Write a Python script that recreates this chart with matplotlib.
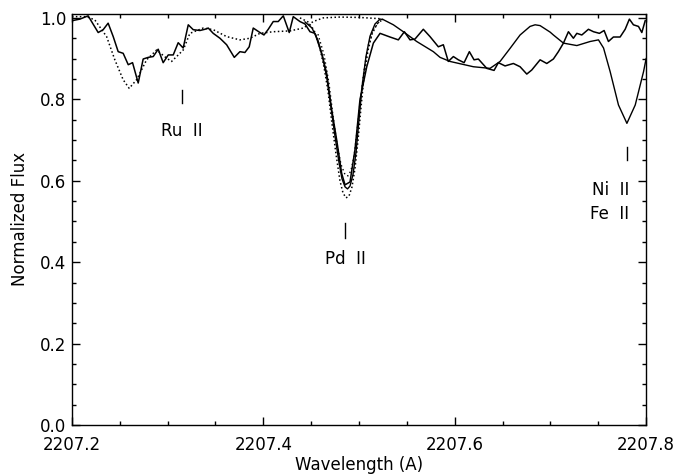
import numpy as np
import matplotlib
matplotlib.use('Agg')
import matplotlib.pyplot as plt
from matplotlib.ticker import MultipleLocator

# observed spectrum (jagged solid line)
obs_wl = [2207.2000, 2207.2084, 2207.2170, 2207.2275, 2207.2327, 2207.2379, 2207.2432,
          2207.2484, 2207.2536, 2207.2589, 2207.2634, 2207.2693, 2207.2745, 2207.2798,
          2207.2850, 2207.2902, 2207.2954, 2207.3007, 2207.3059, 2207.3111, 2207.3163,
          2207.3216, 2207.3268, 2207.3338, 2207.3390, 2207.3425, 2207.3477, 2207.3547,
          2207.3617, 2207.3697, 2207.3756, 2207.3808, 2207.3853, 2207.3895, 2207.3965,
          2207.4007, 2207.4052, 2207.4104, 2207.4156, 2207.4209, 2207.4271, 2207.4313,
          2207.4383, 2207.4436, 2207.4488, 2207.4540, 2207.4610, 2207.4662, 2207.4715,
          2207.4767, 2207.4819, 2207.4854, 2207.4906, 2207.4958, 2207.5010, 2207.5081,
          2207.5150, 2207.5220, 2207.5324, 2207.5411, 2207.5474, 2207.5533, 2207.5585,
          2207.5672, 2207.5742, 2207.5829, 2207.5881, 2207.5933, 2207.5986, 2207.6038,
          2207.6098, 2207.6153, 2207.6202, 2207.6247, 2207.6335, 2207.6411, 2207.6456,
          2207.6526, 2207.6613, 2207.6683, 2207.6753, 2207.6805, 2207.6892, 2207.6962,
          2207.7031, 2207.7083, 2207.7136, 2207.7188, 2207.7240, 2207.7276, 2207.7328,
          2207.7397, 2207.7450, 2207.7512, 2207.7561, 2207.7606, 2207.7658, 2207.7728,
          2207.7781, 2207.7825, 2207.7867, 2207.7920, 2207.7955, 2207.7990]
obs_flux = [0.993, 0.997, 1.005, 0.964, 0.971, 0.987, 0.954,
            0.917, 0.913, 0.885, 0.890, 0.840, 0.899, 0.903,
            0.905, 0.923, 0.890, 0.909, 0.909, 0.939, 0.926,
            0.983, 0.971, 0.969, 0.972, 0.975, 0.962, 0.950,
            0.934, 0.903, 0.917, 0.915, 0.929, 0.975, 0.964,
            0.958, 0.972, 0.991, 0.991, 1.005, 0.964, 1.003,
            0.991, 0.985, 0.966, 0.962, 0.913, 0.864, 0.774,
            0.700, 0.618, 0.590, 0.597, 0.676, 0.799, 0.880,
            0.938, 0.962, 0.953, 0.946, 0.966, 0.946, 0.948,
            0.972, 0.954, 0.929, 0.934, 0.893, 0.905, 0.897,
            0.890, 0.917, 0.897, 0.899, 0.876, 0.871, 0.890,
            0.882, 0.888, 0.880, 0.862, 0.872, 0.897, 0.888,
            0.899, 0.917, 0.938, 0.966, 0.950, 0.962, 0.958,
            0.972, 0.966, 0.962, 0.969, 0.942, 0.953, 0.953,
            0.972, 0.997, 0.983, 0.979, 0.964, 0.993]

# synthetic spectrum without Pd (dotted)
nopd_wl = [2207.2000, 2207.2154, 2207.2240, 2207.2363, 2207.2449, 2207.2536, 2207.2599,
           2207.2676, 2207.2781, 2207.2885, 2207.2990, 2207.3042, 2207.3094, 2207.3163,
           2207.3233, 2207.3372, 2207.3477, 2207.3617, 2207.3756, 2207.3861, 2207.3965,
           2207.4104, 2207.4279, 2207.4418, 2207.4522, 2207.4627, 2207.4801, 2207.5010,
           2207.5220, 2207.5251]
nopd_flux = [1.003, 1.003, 0.995, 0.954, 0.897, 0.848, 0.827,
             0.848, 0.897, 0.921, 0.901, 0.893, 0.905, 0.921,
             0.962, 0.975, 0.971, 0.954, 0.946, 0.950, 0.962,
             0.966, 0.968, 0.975, 0.991, 1.000, 1.002, 1.001,
             0.998, 0.996]

# best-fit synthetic spectrum (smooth solid)
fit_wl = [2207.4436, 2207.4509, 2207.4571, 2207.4624, 2207.4666, 2207.4707, 2207.4749,
          2207.4791, 2207.4822, 2207.4854, 2207.4880, 2207.4906, 2207.4937, 2207.4969,
          2207.5000, 2207.5031, 2207.5073, 2207.5115, 2207.5167, 2207.5220, 2207.5251,
          2207.5359, 2207.5463, 2207.5603, 2207.5777, 2207.5847, 2207.5951, 2207.6195,
          2207.6369, 2207.6474, 2207.6578, 2207.6683, 2207.6787, 2207.6840, 2207.6892,
          2207.6997, 2207.7031, 2207.7136, 2207.7276, 2207.7415, 2207.7502, 2207.7555,
          2207.7624, 2207.7711, 2207.7799, 2207.7886, 2207.7973, 2207.8000]
fit_flux = [0.990, 0.975, 0.945, 0.900, 0.850, 0.780, 0.710,
            0.645, 0.605, 0.585, 0.580, 0.587, 0.615, 0.670,
            0.750, 0.830, 0.905, 0.955, 0.985, 0.997, 0.996,
            0.983, 0.966, 0.942, 0.917, 0.903, 0.893, 0.880,
            0.876, 0.893, 0.925, 0.958, 0.979, 0.983, 0.981,
            0.965, 0.958, 0.938, 0.932, 0.942, 0.946, 0.926,
            0.868, 0.786, 0.741, 0.786, 0.868, 0.900]

# Pd models with higher / lower abundance (dotted)
pdhi_wl = [2207.4383, 2207.4467, 2207.4530, 2207.4582, 2207.4634, 2207.4676, 2207.4718,
           2207.4760, 2207.4801, 2207.4833, 2207.4864, 2207.4895, 2207.4927, 2207.4958,
           2207.4990, 2207.5021, 2207.5052, 2207.5094, 2207.5136, 2207.5188, 2207.5251]
pdhi_flux = [1.000, 0.990, 0.970, 0.935, 0.880, 0.820, 0.740,
             0.665, 0.600, 0.570, 0.558, 0.562, 0.585, 0.630,
             0.700, 0.780, 0.855, 0.920, 0.960, 0.985, 0.997]
pdlo_wl = [2207.4571, 2207.4634, 2207.4686, 2207.4728, 2207.4770, 2207.4812, 2207.4854,
           2207.4885, 2207.4916, 2207.4948, 2207.4979, 2207.5010, 2207.5052, 2207.5094,
           2207.5146, 2207.5209]
pdlo_flux = [0.960, 0.910, 0.840, 0.760, 0.690, 0.640, 0.615,
             0.612, 0.625, 0.660, 0.720, 0.790, 0.870, 0.930,
             0.970, 0.990]

# line identifications
ion_names = ['Ru  II', 'Pd  II', 'Ni  II\nFe  II']
ion_wl = [2207.315, 2207.4855, 2207.780]

xticks = [2207.2, 2207.4, 2207.6, 2207.8]
xticklabels = ['2207.2', '2207.4', '2207.6', '2207.8']
yticks = [0.0, 0.2, 0.4, 0.6, 0.8, 1.0]

plt.rcParams['font.family'] = ['DejaVu Sans']
plt.rcParams['font.size'] = 12

fig = plt.figure(figsize=(6.78, 4.76), dpi=100)
ax = fig.add_axes([0.106, 0.107, 0.847, 0.864])

ax.plot(obs_wl, obs_flux, color='black', lw=1.1)
ax.plot(nopd_wl, nopd_flux, color='black', lw=1.1, linestyle=(0, (1, 1.6)))
ax.plot(fit_wl, fit_flux, color='black', lw=1.0)
ax.plot(pdhi_wl, pdhi_flux, color='black', lw=1.1, linestyle=(0, (1, 1.6)))
ax.plot(pdlo_wl, pdlo_flux, color='black', lw=1.0, linestyle=(0, (1, 2.0)))

# Ru II
ax.plot([ion_wl[0], ion_wl[0]], [0.792, 0.824], color='black', lw=1.0)
ax.text(ion_wl[0], 0.721, ion_names[0], ha='center', va='center', fontsize=12)
# Pd II
ax.plot([ion_wl[1], ion_wl[1]], [0.459, 0.496], color='black', lw=1.0)
ax.text(ion_wl[1], 0.408, ion_names[1], ha='center', va='center', fontsize=12)
# Ni II / Fe II
ax.plot([ion_wl[2], ion_wl[2]], [0.651, 0.684], color='black', lw=1.0)
ax.text(2207.7825, 0.547, ion_names[2], ha='right', va='center', fontsize=12,
        linespacing=1.45)

ax.set_xlim(2207.2, 2207.8)
ax.set_ylim(0.0, 1.01)
ax.set_xticks(xticks)
ax.set_xticklabels(xticklabels)
ax.set_yticks(yticks)
ax.xaxis.set_minor_locator(MultipleLocator(0.05))
ax.yaxis.set_minor_locator(MultipleLocator(0.05))
ax.tick_params(which='both', direction='in', top=True, right=True, width=1.0)
ax.tick_params(which='major', length=6, labelsize=12)
ax.tick_params(which='minor', length=3)
ax.tick_params(axis='x', which='major', pad=8)
ax.tick_params(axis='y', which='major', pad=4)
for s in ax.spines.values():
    s.set_linewidth(1.0)

ax.set_xlabel('Wavelength (A)', fontsize=12, labelpad=1)
ax.set_ylabel('Normalized Flux', fontsize=12, labelpad=8)

plt.savefig('out.png', dpi=100)
